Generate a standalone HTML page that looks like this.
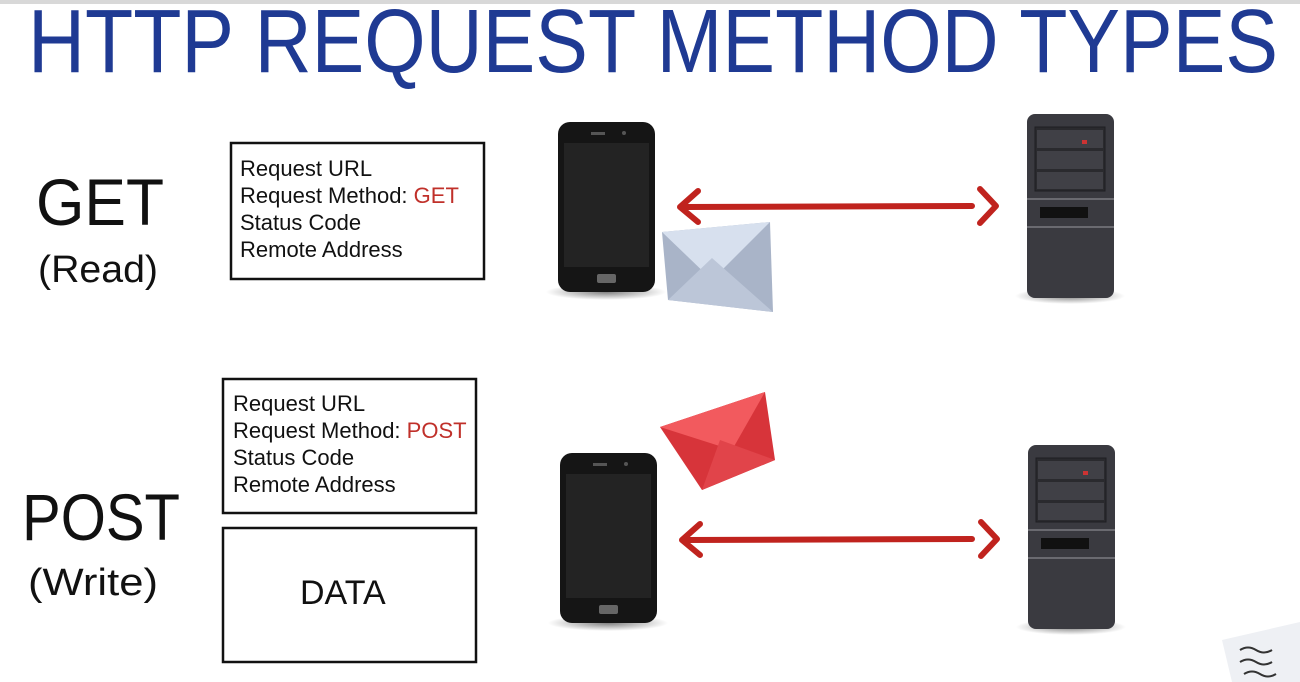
<!DOCTYPE html>
<html><head><meta charset="utf-8"><style>
html,body{margin:0;padding:0;background:#fff;}
svg{display:block;}
text{font-family:"Liberation Sans",sans-serif;}
</style></head><body>
<svg width="1300" height="682" viewBox="0 0 1300 682" xmlns="http://www.w3.org/2000/svg">
<defs>
<radialGradient id="sh" cx="50%" cy="50%" r="50%"><stop offset="0" stop-color="#000" stop-opacity="0.5"/><stop offset="1" stop-color="#000" stop-opacity="0"/></radialGradient>
</defs>
<rect width="1300" height="682" fill="#fff"/>
<rect width="1300" height="4" fill="#d8d8d8"/>
<text x="28" y="72" font-size="90" fill="#1f3a93" textLength="1250" lengthAdjust="spacingAndGlyphs">HTTP REQUEST METHOD TYPES</text>

<text x="36" y="225" font-size="66" fill="#111" textLength="128" lengthAdjust="spacingAndGlyphs">GET</text>
<text x="38" y="282" font-size="38" fill="#111" textLength="120" lengthAdjust="spacingAndGlyphs">(Read)</text>
<text x="22" y="540" font-size="66" fill="#111" textLength="158" lengthAdjust="spacingAndGlyphs">POST</text>
<text x="28" y="595" font-size="38" fill="#111" textLength="130" lengthAdjust="spacingAndGlyphs">(Write)</text>

<rect x="231" y="143" width="253" height="136" fill="none" stroke="#111" stroke-width="2.5"/>
<g font-size="22" fill="#111">
<text x="240" y="176">Request URL</text>
<text x="240" y="203">Request Method: <tspan fill="#c0302a">GET</tspan></text>
<text x="240" y="230">Status Code</text>
<text x="240" y="257">Remote Address</text>
</g>
<rect x="223" y="379" width="253" height="134" fill="none" stroke="#111" stroke-width="2.5"/>
<g font-size="22" fill="#111">
<text x="233" y="411">Request URL</text>
<text x="233" y="438">Request Method: <tspan fill="#c0302a">POST</tspan></text>
<text x="233" y="465">Status Code</text>
<text x="233" y="492">Remote Address</text>
</g>
<rect x="223" y="528" width="253" height="134" fill="none" stroke="#111" stroke-width="2.5"/>
<text x="300" y="604" font-size="34" fill="#111">DATA</text>

<!-- phones -->
<g id="ph">
<ellipse cx="606" cy="292" rx="60" ry="8" fill="url(#sh)"/>
<rect x="558" y="122" width="97" height="170" rx="12" fill="#151515"/>
<rect x="564" y="143" width="85" height="124" fill="#232323"/>
<rect x="591" y="132" width="14" height="3" fill="#555"/>
<circle cx="624" cy="133" r="2" fill="#555"/>
<rect x="597" y="274" width="19" height="9" rx="2" fill="#666"/>
</g>
<use href="#ph" x="2" y="331"/>

<!-- servers -->
<g id="sv">
<ellipse cx="1070" cy="296" rx="55" ry="8" fill="url(#sh)"/>
<rect x="1027" y="114" width="87" height="184" rx="8" fill="#3a3a40"/>
<rect x="1035" y="127" width="70" height="64" fill="#2a2a2e" stroke="#1e1e22"/>
<rect x="1037" y="130" width="66" height="18" fill="#404046"/>
<rect x="1037" y="151" width="66" height="18" fill="#404046"/>
<rect x="1037" y="172" width="66" height="17" fill="#404046"/>
<rect x="1082" y="140" width="5" height="4" fill="#c33"/>
<rect x="1027" y="198" width="87" height="2" fill="#6a6a70"/>
<rect x="1040" y="207" width="48" height="11" fill="#111"/>
<rect x="1027" y="226" width="87" height="2" fill="#6a6a70"/>
</g>
<use href="#sv" x="1" y="331"/>

<!-- arrows -->
<g stroke="#c0231e" stroke-width="6" fill="none" stroke-linecap="round" stroke-linejoin="round">
<path d="M684 207 L972 206"/>
<path d="M698 191 L680 207 L698 222"/>
<path d="M980 189 L996 206 L980 223"/>
<path d="M686 540 L972 539"/>
<path d="M700 524 L682 540 L700 555"/>
<path d="M981 522 L997 539 L981 556"/>
</g>

<!-- envelope grey -->
<polygon points="662,232 770,222 773,312 668,300" fill="#a9b4c8"/>
<polygon points="662,232 770,222 712,280" fill="#d7e0ee"/>
<polygon points="668,300 712,258 773,312" fill="#bcc6d8"/>
<!-- envelope red -->
<polygon points="660,427 765,392 775,460 702,490" fill="#d7343a"/>
<polygon points="660,427 765,392 732,450" fill="#f25a5e"/>
<polygon points="702,490 720,440 775,460" fill="#e1444a"/>

<!-- paper corner -->
<polygon points="1222,640 1300,622 1300,682 1232,682" fill="#eef0f4"/>
<path d="M1240 650 q8 -5 16 0 t16 0 M1240 662 q8 -5 16 0 t16 0 M1244 674 q8 -5 16 0 t16 0" stroke="#333" stroke-width="2" fill="none"/>
</svg>
</body></html>
